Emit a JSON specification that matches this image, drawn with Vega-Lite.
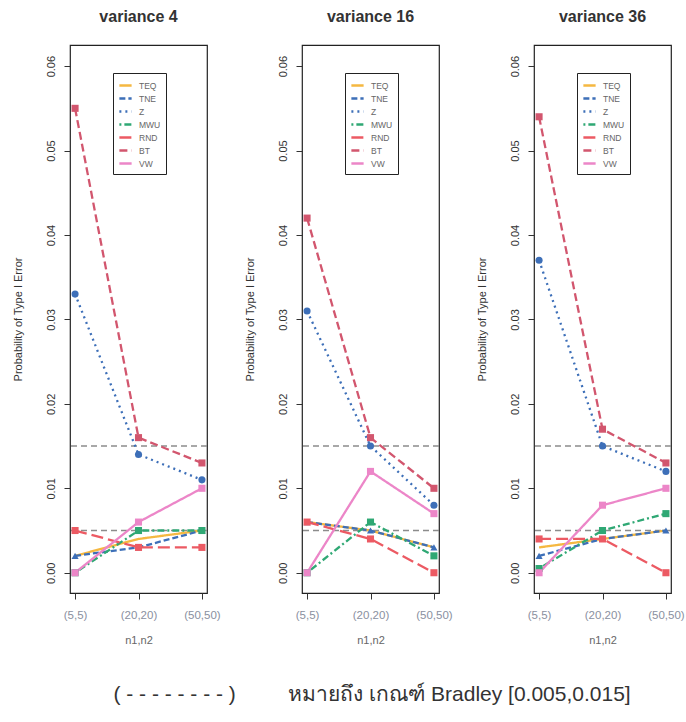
{
  "$schema": "https://vega.github.io/schema/vega-lite/v6.json",
  "padding": {"left": 11, "top": 8, "right": 3, "bottom": 5},
  "datasets": {
    "series": [
      {"v": "variance 4", "n": "(5,5)", "test": "TEQ", "p": 0.002},
      {"v": "variance 4", "n": "(20,20)", "test": "TEQ", "p": 0.004},
      {"v": "variance 4", "n": "(50,50)", "test": "TEQ", "p": 0.005},
      {"v": "variance 4", "n": "(5,5)", "test": "TNE", "p": 0.002},
      {"v": "variance 4", "n": "(20,20)", "test": "TNE", "p": 0.003},
      {"v": "variance 4", "n": "(50,50)", "test": "TNE", "p": 0.005},
      {"v": "variance 4", "n": "(5,5)", "test": "Z", "p": 0.033},
      {"v": "variance 4", "n": "(20,20)", "test": "Z", "p": 0.014},
      {"v": "variance 4", "n": "(50,50)", "test": "Z", "p": 0.011},
      {"v": "variance 4", "n": "(5,5)", "test": "MWU", "p": 0.0},
      {"v": "variance 4", "n": "(20,20)", "test": "MWU", "p": 0.005},
      {"v": "variance 4", "n": "(50,50)", "test": "MWU", "p": 0.005},
      {"v": "variance 4", "n": "(5,5)", "test": "RND", "p": 0.005},
      {"v": "variance 4", "n": "(20,20)", "test": "RND", "p": 0.003},
      {"v": "variance 4", "n": "(50,50)", "test": "RND", "p": 0.003},
      {"v": "variance 4", "n": "(5,5)", "test": "BT", "p": 0.055},
      {"v": "variance 4", "n": "(20,20)", "test": "BT", "p": 0.016},
      {"v": "variance 4", "n": "(50,50)", "test": "BT", "p": 0.013},
      {"v": "variance 4", "n": "(5,5)", "test": "VW", "p": 0.0},
      {"v": "variance 4", "n": "(20,20)", "test": "VW", "p": 0.006},
      {"v": "variance 4", "n": "(50,50)", "test": "VW", "p": 0.010},

      {"v": "variance 16", "n": "(5,5)", "test": "TEQ", "p": 0.006},
      {"v": "variance 16", "n": "(20,20)", "test": "TEQ", "p": 0.005},
      {"v": "variance 16", "n": "(50,50)", "test": "TEQ", "p": 0.003},
      {"v": "variance 16", "n": "(5,5)", "test": "TNE", "p": 0.006},
      {"v": "variance 16", "n": "(20,20)", "test": "TNE", "p": 0.005},
      {"v": "variance 16", "n": "(50,50)", "test": "TNE", "p": 0.003},
      {"v": "variance 16", "n": "(5,5)", "test": "Z", "p": 0.031},
      {"v": "variance 16", "n": "(20,20)", "test": "Z", "p": 0.015},
      {"v": "variance 16", "n": "(50,50)", "test": "Z", "p": 0.008},
      {"v": "variance 16", "n": "(5,5)", "test": "MWU", "p": 0.0},
      {"v": "variance 16", "n": "(20,20)", "test": "MWU", "p": 0.006},
      {"v": "variance 16", "n": "(50,50)", "test": "MWU", "p": 0.002},
      {"v": "variance 16", "n": "(5,5)", "test": "RND", "p": 0.006},
      {"v": "variance 16", "n": "(20,20)", "test": "RND", "p": 0.004},
      {"v": "variance 16", "n": "(50,50)", "test": "RND", "p": 0.0},
      {"v": "variance 16", "n": "(5,5)", "test": "BT", "p": 0.042},
      {"v": "variance 16", "n": "(20,20)", "test": "BT", "p": 0.016},
      {"v": "variance 16", "n": "(50,50)", "test": "BT", "p": 0.010},
      {"v": "variance 16", "n": "(5,5)", "test": "VW", "p": 0.0},
      {"v": "variance 16", "n": "(20,20)", "test": "VW", "p": 0.012},
      {"v": "variance 16", "n": "(50,50)", "test": "VW", "p": 0.007},

      {"v": "variance 36", "n": "(5,5)", "test": "TEQ", "p": 0.003},
      {"v": "variance 36", "n": "(20,20)", "test": "TEQ", "p": 0.004},
      {"v": "variance 36", "n": "(50,50)", "test": "TEQ", "p": 0.005},
      {"v": "variance 36", "n": "(5,5)", "test": "TNE", "p": 0.002},
      {"v": "variance 36", "n": "(20,20)", "test": "TNE", "p": 0.004},
      {"v": "variance 36", "n": "(50,50)", "test": "TNE", "p": 0.005},
      {"v": "variance 36", "n": "(5,5)", "test": "Z", "p": 0.037},
      {"v": "variance 36", "n": "(20,20)", "test": "Z", "p": 0.015},
      {"v": "variance 36", "n": "(50,50)", "test": "Z", "p": 0.012},
      {"v": "variance 36", "n": "(5,5)", "test": "MWU", "p": 0.0005},
      {"v": "variance 36", "n": "(20,20)", "test": "MWU", "p": 0.005},
      {"v": "variance 36", "n": "(50,50)", "test": "MWU", "p": 0.007},
      {"v": "variance 36", "n": "(5,5)", "test": "RND", "p": 0.004},
      {"v": "variance 36", "n": "(20,20)", "test": "RND", "p": 0.004},
      {"v": "variance 36", "n": "(50,50)", "test": "RND", "p": 0.0},
      {"v": "variance 36", "n": "(5,5)", "test": "BT", "p": 0.054},
      {"v": "variance 36", "n": "(20,20)", "test": "BT", "p": 0.017},
      {"v": "variance 36", "n": "(50,50)", "test": "BT", "p": 0.013},
      {"v": "variance 36", "n": "(5,5)", "test": "VW", "p": 0.0},
      {"v": "variance 36", "n": "(20,20)", "test": "VW", "p": 0.008},
      {"v": "variance 36", "n": "(50,50)", "test": "VW", "p": 0.010}
    ],
    "bradley": [{"p": 0.005}, {"p": 0.015}]
  },
  "title": {
    "text": "(\u00a0- - - - - - - -\u00a0)\u00a0\u00a0\u00a0\u00a0\u00a0\u00a0\u00a0\u00a0\u00a0หมายถึง เกณฑ์ Bradley [0.005,0.015]",
    "orient": "bottom",
    "anchor": "start",
    "dx": 102,
    "offset": 38,
    "fontSize": 21,
    "fontWeight": "normal",
    "color": "#333",
    "frame": "bounds"
  },
  "hconcat": [
    {
      "width": 137, "height": 548,
      "title": {"text": "variance 4"},
      "layer": [
        {"data": {"name": "bradley"}, "mark": {"type": "rule", "color": "#8c8c8c", "strokeDash": [6, 4], "strokeWidth": 1.5},
          "encoding": {"y": {"field": "p", "type": "quantitative", "scale": {"domain": [-0.0024, 0.0625], "nice": false, "zero": false}, "axis": {"title": "Probability of Type I Error", "values": [0, 0.01, 0.02, 0.03, 0.04, 0.05, 0.06], "format": ".2f"}}}},
        {"data": {"name": "series"}, "transform": [{"filter": "datum.v === 'variance 4'"}], "mark": {"type": "line", "strokeWidth": 2.3},
          "encoding": {
            "x": {"field": "n", "type": "ordinal", "sort": ["(5,5)", "(20,20)", "(50,50)"], "scale": {"type": "point", "padding": 0.08}, "axis": {"title": "n1,n2"}},
            "y": {"field": "p", "type": "quantitative", "scale": {"domain": [-0.0024, 0.0625], "nice": false, "zero": false}, "axis": {"title": "Probability of Type I Error", "values": [0, 0.01, 0.02, 0.03, 0.04, 0.05, 0.06], "format": ".2f"}},
            "color": {"field": "test", "type": "nominal", "scale": {"domain": ["TEQ", "TNE", "Z", "MWU", "RND", "BT", "VW"], "range": ["#F5B841", "#3D6FB8", "#3D6FB8", "#2FA874", "#EC5A63", "#D2566E", "#EC86C8"]}, "legend": {"title": null}},
            "strokeDash": {"field": "test", "type": "nominal", "scale": {"domain": ["TEQ", "TNE", "Z", "MWU", "RND", "BT", "VW"], "range": [[1, 0], [6, 3], [2, 4], [2, 3, 7, 3], [12, 5], [8, 4], [1, 0]]}, "legend": {"title": null}}
          }},
        {"data": {"name": "series"}, "transform": [{"filter": "datum.v === 'variance 4'"}], "mark": {"type": "point", "filled": true, "size": 50, "opacity": 1, "strokeWidth": 0},
          "encoding": {
            "x": {"field": "n", "type": "ordinal", "sort": ["(5,5)", "(20,20)", "(50,50)"], "scale": {"type": "point", "padding": 0.08}, "axis": {"title": "n1,n2"}},
            "y": {"field": "p", "type": "quantitative"},
            "fill": {"field": "test", "type": "nominal", "scale": {"domain": ["TEQ", "TNE", "Z", "MWU", "RND", "BT", "VW"], "range": ["#F5B841", "#3D6FB8", "#3D6FB8", "#2FA874", "#EC5A63", "#D2566E", "#EC86C8"]}, "legend": null},
            "shape": {"field": "test", "type": "nominal", "scale": {"domain": ["TEQ", "TNE", "Z", "MWU", "RND", "BT", "VW"], "range": ["stroke", "triangle-up", "circle", "square", "square", "square", "square"]}, "legend": null}
          }}
      ]
    },
    {
      "width": 137, "height": 548,
      "title": {"text": "variance 16"},
      "layer": [
        {"data": {"name": "bradley"}, "mark": {"type": "rule", "color": "#8c8c8c", "strokeDash": [6, 4], "strokeWidth": 1.5},
          "encoding": {"y": {"field": "p", "type": "quantitative", "scale": {"domain": [-0.0024, 0.0625], "nice": false, "zero": false}, "axis": {"title": "Probability of Type I Error", "values": [0, 0.01, 0.02, 0.03, 0.04, 0.05, 0.06], "format": ".2f"}}}},
        {"data": {"name": "series"}, "transform": [{"filter": "datum.v === 'variance 16'"}], "mark": {"type": "line", "strokeWidth": 2.3},
          "encoding": {
            "x": {"field": "n", "type": "ordinal", "sort": ["(5,5)", "(20,20)", "(50,50)"], "scale": {"type": "point", "padding": 0.08}, "axis": {"title": "n1,n2"}},
            "y": {"field": "p", "type": "quantitative", "scale": {"domain": [-0.0024, 0.0625], "nice": false, "zero": false}, "axis": {"title": "Probability of Type I Error", "values": [0, 0.01, 0.02, 0.03, 0.04, 0.05, 0.06], "format": ".2f"}},
            "color": {"field": "test", "type": "nominal", "scale": {"domain": ["TEQ", "TNE", "Z", "MWU", "RND", "BT", "VW"], "range": ["#F5B841", "#3D6FB8", "#3D6FB8", "#2FA874", "#EC5A63", "#D2566E", "#EC86C8"]}, "legend": {"title": null}},
            "strokeDash": {"field": "test", "type": "nominal", "scale": {"domain": ["TEQ", "TNE", "Z", "MWU", "RND", "BT", "VW"], "range": [[1, 0], [6, 3], [2, 4], [2, 3, 7, 3], [12, 5], [8, 4], [1, 0]]}, "legend": {"title": null}}
          }},
        {"data": {"name": "series"}, "transform": [{"filter": "datum.v === 'variance 16'"}], "mark": {"type": "point", "filled": true, "size": 50, "opacity": 1, "strokeWidth": 0},
          "encoding": {
            "x": {"field": "n", "type": "ordinal", "sort": ["(5,5)", "(20,20)", "(50,50)"], "scale": {"type": "point", "padding": 0.08}, "axis": {"title": "n1,n2"}},
            "y": {"field": "p", "type": "quantitative"},
            "fill": {"field": "test", "type": "nominal", "scale": {"domain": ["TEQ", "TNE", "Z", "MWU", "RND", "BT", "VW"], "range": ["#F5B841", "#3D6FB8", "#3D6FB8", "#2FA874", "#EC5A63", "#D2566E", "#EC86C8"]}, "legend": null},
            "shape": {"field": "test", "type": "nominal", "scale": {"domain": ["TEQ", "TNE", "Z", "MWU", "RND", "BT", "VW"], "range": ["stroke", "triangle-up", "circle", "square", "square", "square", "square"]}, "legend": null}
          }}
      ]
    },
    {
      "width": 137, "height": 548,
      "title": {"text": "variance 36"},
      "layer": [
        {"data": {"name": "bradley"}, "mark": {"type": "rule", "color": "#8c8c8c", "strokeDash": [6, 4], "strokeWidth": 1.5},
          "encoding": {"y": {"field": "p", "type": "quantitative", "scale": {"domain": [-0.0024, 0.0625], "nice": false, "zero": false}, "axis": {"title": "Probability of Type I Error", "values": [0, 0.01, 0.02, 0.03, 0.04, 0.05, 0.06], "format": ".2f"}}}},
        {"data": {"name": "series"}, "transform": [{"filter": "datum.v === 'variance 36'"}], "mark": {"type": "line", "strokeWidth": 2.3},
          "encoding": {
            "x": {"field": "n", "type": "ordinal", "sort": ["(5,5)", "(20,20)", "(50,50)"], "scale": {"type": "point", "padding": 0.08}, "axis": {"title": "n1,n2"}},
            "y": {"field": "p", "type": "quantitative", "scale": {"domain": [-0.0024, 0.0625], "nice": false, "zero": false}, "axis": {"title": "Probability of Type I Error", "values": [0, 0.01, 0.02, 0.03, 0.04, 0.05, 0.06], "format": ".2f"}},
            "color": {"field": "test", "type": "nominal", "scale": {"domain": ["TEQ", "TNE", "Z", "MWU", "RND", "BT", "VW"], "range": ["#F5B841", "#3D6FB8", "#3D6FB8", "#2FA874", "#EC5A63", "#D2566E", "#EC86C8"]}, "legend": {"title": null}},
            "strokeDash": {"field": "test", "type": "nominal", "scale": {"domain": ["TEQ", "TNE", "Z", "MWU", "RND", "BT", "VW"], "range": [[1, 0], [6, 3], [2, 4], [2, 3, 7, 3], [12, 5], [8, 4], [1, 0]]}, "legend": {"title": null}}
          }},
        {"data": {"name": "series"}, "transform": [{"filter": "datum.v === 'variance 36'"}], "mark": {"type": "point", "filled": true, "size": 50, "opacity": 1, "strokeWidth": 0},
          "encoding": {
            "x": {"field": "n", "type": "ordinal", "sort": ["(5,5)", "(20,20)", "(50,50)"], "scale": {"type": "point", "padding": 0.08}, "axis": {"title": "n1,n2"}},
            "y": {"field": "p", "type": "quantitative"},
            "fill": {"field": "test", "type": "nominal", "scale": {"domain": ["TEQ", "TNE", "Z", "MWU", "RND", "BT", "VW"], "range": ["#F5B841", "#3D6FB8", "#3D6FB8", "#2FA874", "#EC5A63", "#D2566E", "#EC86C8"]}, "legend": null},
            "shape": {"field": "test", "type": "nominal", "scale": {"domain": ["TEQ", "TNE", "Z", "MWU", "RND", "BT", "VW"], "range": ["stroke", "triangle-up", "circle", "square", "square", "square", "square"]}, "legend": null}
          }}
      ]
    }
  ],
  "spacing": 95,
  "bounds": "flush",
  "resolve": {"legend": {"color": "independent", "strokeDash": "independent"}},
  "config": {
    "font": "Liberation Sans",
    "view": {"stroke": "#222", "strokeWidth": 1.2},
    "title": {"fontSize": 16, "fontWeight": "bold", "color": "#333", "frame": "group", "anchor": "middle", "offset": 20},
    "axis": {"grid": false, "domain": false, "tickColor": "#333", "tickSize": 6},
    "axisX": {
      "labelAngle": 0, "labelColor": "#8a90a0", "labelFontSize": 11.5, "labelPadding": 10,
      "titleColor": "#666", "titleFontSize": 11, "titleFontWeight": "normal", "titlePadding": 14
    },
    "axisY": {
      "labelAngle": -90, "labelAlign": "center", "labelBaseline": "bottom", "labelPadding": 8,
      "labelFontSize": 11, "labelColor": "#333",
      "titleFontSize": 11, "titleFontWeight": "normal", "titleColor": "#333", "titlePadding": 22
    },
    "legend": {
      "orient": "none", "legendX": 43, "legendY": 28,
      "strokeColor": "#222", "fillColor": "white", "padding": 5,
      "labelFontSize": 8.5, "labelColor": "#666", "labelOffset": 6,
      "symbolType": "stroke", "symbolSize": 150, "symbolStrokeWidth": 2.5, "rowPadding": 0
    }
  }
}
